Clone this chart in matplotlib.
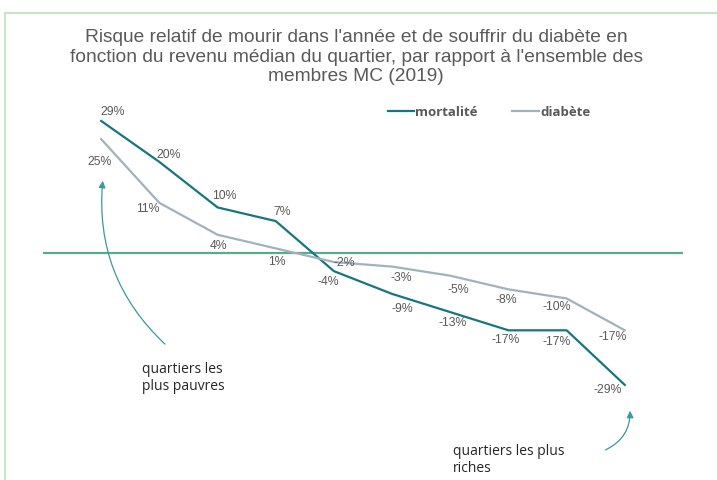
import matplotlib.pyplot as plt
from matplotlib.patches import Rectangle

# valeurs (en %)
quartiers = list(range(10))
mortalite = [29, 20, 10, 7, -4, -9, -13, -17, -17, -29]
diabete = [25, 11, 4, 1, -2, -3, -5, -8, -10, -17]

# decalage des etiquettes (pixels)
off_mort = [(12, 9), (9, 7), (7, 11), (7, 9), (-6, -11), (10, -15), (2, -11), (-3, -10), (-10, -12), (-17, -5)]
off_diab = [(-2, -23), (-11, -6), (1, -11), (1, -14), (10, -1), (9, -11), (8, -14), (-2, -11), (-10, -9), (-12, -7)]

col_mort = '#17767d'
col_diab = '#a0b3bc'
gris = '#595959'

plt.rcParams['font.family'] = ['Liberation Sans', 'DejaVu Sans']

fig = plt.figure(figsize=(7.17, 4.8), dpi=100)
ax = fig.add_axes([43 / 717, 50 / 480, 640 / 717, 335 / 480])

ax.plot(quartiers, mortalite, color=col_mort, lw=1.6, label='mortalité')
ax.plot(quartiers, diabete, color=col_diab, lw=1.6, label='diabète')
ax.axhline(0, color='#5aa98a', lw=1.6, zorder=1)

for x, v, o in zip(quartiers, mortalite, off_mort):
    ax.annotate(f'{v}%', (x, v), xytext=o, textcoords='offset pixels',
                ha='center', va='center', fontsize=8.8, color=gris)
for x, v, o in zip(quartiers, diabete, off_diab):
    ax.annotate(f'{v}%', (x, v), xytext=o, textcoords='offset pixels',
                ha='center', va='center', fontsize=8.8, color=gris)

ax.set_xlim(-1, 10)
ax.set_ylim(-38.9, 34.7)
ax.axis('off')

leg = ax.legend(loc='center', bbox_to_anchor=(489 / 717, 1 - 112 / 480), bbox_transform=fig.transFigure,
                ncol=2, frameon=False, handlelength=2.0, handletextpad=0.1, columnspacing=2.6,
                prop={'family': ['Open Sans', 'DejaVu Sans'], 'weight': 'bold', 'size': 9.5})
for t in leg.get_texts():
    t.set_color(gris)

fig.text(0.497, 1 - 57 / 480, "Risque relatif de mourir dans l'année et de souffrir du diabète en\n"
         "fonction du revenu médian du quartier, par rapport à l'ensemble des\n"
         "membres MC (2019)", ha='center', va='center', fontsize=13.8, color=gris,
         linespacing=1.22)

# fleches et commentaires
ax.annotate('', xy=(103, 480 - 178), xycoords='figure pixels',
            xytext=(167, 480 - 346), textcoords='figure pixels',
            arrowprops=dict(arrowstyle='-|>', color='#3a98a0', lw=0.9,
                            connectionstyle='arc3,rad=-0.25', mutation_scale=10))
ax.annotate('', xy=(630, 480 - 408), xycoords='figure pixels',
            xytext=(603, 480 - 451), textcoords='figure pixels',
            arrowprops=dict(arrowstyle='-|>', color='#3a98a0', lw=0.9,
                            connectionstyle='arc3,rad=0.35', mutation_scale=10))
fig.text(142 / 717, 1 - 378 / 480, 'quartiers les\nplus pauvres', ha='left', va='center',
         fontsize=10, color='#262626', family=['Open Sans', 'DejaVu Sans'], linespacing=1.15)
fig.text(453 / 717, 1 - 460 / 480, 'quartiers les plus\nriches', ha='left', va='center',
         fontsize=10, color='#262626', family=['Open Sans', 'DejaVu Sans'], linespacing=1.15)

# cadre vert clair
fig.patches.append(Rectangle((4.5 / 717, -0.1), 1.1, 1.1 - 12.5 / 480, transform=fig.transFigure,
                             fill=False, ec='#c6e4c6', lw=1.5))

fig.savefig('out.png', dpi=100, facecolor='white')
